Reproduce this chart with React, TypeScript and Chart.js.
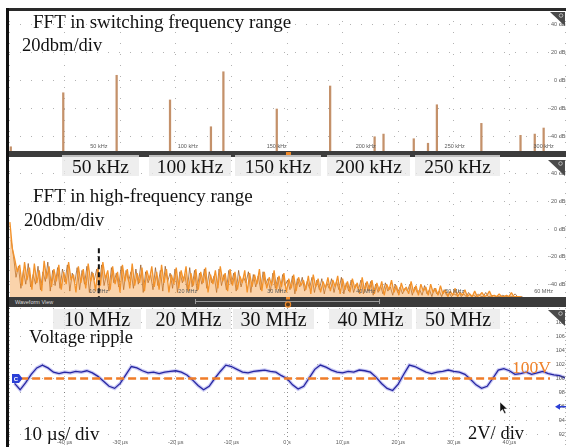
import React, { useEffect, useRef } from "react";
import { Chart, registerables } from "chart.js";

Chart.register(...registerables);

// ---- Switching-frequency spectrum: discrete lines (kHz, dBm) ----
const SW_FREQ_KHZ = [0.5, 30, 60, 90, 113, 120, 150, 180, 205, 210, 227, 235, 240, 265, 287, 295, 300];
const SW_LEVEL_DBM = [-47, -8.7, 3.7, -13.8, -32.8, 6.2, -20.2, -3.9, -39.9, -38, -41.3, -44.5, -17.2, -30.4, -38.9, -38, -33.7];
const SW_TICKS_KHZ = [50, 100, 150, 200, 250, 300];
const DBM_TICKS = [40, 20, 0, -20, -40];

// ---- High-frequency spectrum: two traces sampled every HF_BIN_MHZ (dBm) ----
const HF_BIN_MHZ = 0.275;
// max-hold trace (orange)
const HF_PEAK_DBM = [
  5, -14, -22, -31, -26, -41, -24, -37, -28, -44,
  -25, -39, -30, -45, -23, -36, -27, -42, -29, -38,
  -26, -44, -31, -40, -24, -37, -33, -46, -27, -39,
  -29, -43, -25, -38, -32, -45, -28, -41, -24, -36,
  -30, -44, -27, -40, -31, -46, -26, -38, -29, -43,
  -25, -41, -32, -39, -28, -45, -30, -37, -27, -42,
  -31, -44, -26, -39, -29, -46, -33, -40, -28, -43,
  -30, -38, -27, -45, -32, -41, -29, -44, -31, -39,
  -28, -46, -33, -40, -30, -43, -27, -38, -32, -45,
  -29, -41, -31, -44, -34, -39, -30, -46, -32, -42,
  -33, -40, -29, -45, -31, -43, -35, -41, -30, -44,
  -34, -42, -32, -46, -36, -43, -33, -45, -35, -41,
  -37, -44, -34, -47, -33, -42, -36, -46, -38, -43,
  -35, -45, -37, -42, -34, -47, -36, -44, -38, -46,
  -36, -43, -39, -47, -35, -45, -38, -44, -37, -47,
  -39, -45, -38, -48, -40, -44, -37, -46, -41, -48,
  -39, -45, -42, -47, -38, -46, -41, -48, -40, -45,
  -42, -48, -40, -46, -43, -48, -41, -47, -44, -49,
  -45, -48, -43, -49, -46, -48, -44, -49, -47, -49,
  -45, -49, -48, -46, -49, -48, -45, -49, -48, -49,
  -47, -49, -49, -48, -49, -46, -49, -49, -49, -49,
];
// live trace (brown), bins centred half a bin later
const HF_LIVE_DBM = [
  -8, -20, -35, -27, -43, -30, -40, -25, -42, -33,
  -40, -27, -44, -31, -38, -24, -45, -30, -41, -28,
  -43, -29, -38, -26, -45, -32, -39, -28, -44, -30,
  -40, -27, -46, -31, -37, -29, -43, -26, -41, -33,
  -45, -28, -39, -32, -42, -27, -44, -30, -38, -31,
  -43, -29, -40, -26, -46, -31, -39, -33, -44, -28,
  -41, -30, -45, -27, -38, -32, -43, -29, -46, -31,
  -39, -33, -44, -28, -42, -30, -45, -32, -40, -29,
  -43, -31, -39, -34, -46, -29, -41, -33, -44, -30,
  -40, -32, -45, -30, -42, -35, -39, -31, -46, -33,
  -42, -34, -44, -31, -40, -36, -45, -32, -43, -35,
  -46, -33, -41, -37, -44, -34, -47, -36, -42, -35,
  -45, -38, -43, -35, -46, -37, -44, -36, -47, -39,
  -43, -36, -46, -38, -44, -35, -47, -39, -45, -37,
  -46, -40, -44, -37, -47, -39, -45, -38, -48, -40,
  -46, -41, -47, -39, -45, -42, -48, -40, -46, -42,
  -47, -43, -45, -40, -48, -42, -46, -44, -48, -41,
  -47, -44, -49, -43, -47, -45, -49, -44, -48, -46,
  -49, -47, -48, -45, -49, -47, -49, -46, -49, -48,
  -49, -47, -49, -49, -46, -49, -49, -48, -49, -49,
  -49, -48, -49, -49, -49, -49, -47, -49, -49, -49,
];
const HF_TICKS_MHZ = [10, 20, 30, 40, 50, 60];
const HF_MARKER_MHZ = 10;
const HF_MARKER_TOP_DBM = -14;

// ---- Output voltage ripple, one sample per microsecond from RIPPLE_T0_US ----
const RIPPLE_T0_US = -49;
const RIPPLE_DT_US = 1;
const RIPPLE_V = [
  99.3, 98.4, 99.4, 100.6, 101.5, 101.9, 101.5, 100.9, 100.7, 100.9,
  100.8, 101.0, 100.9, 101.1, 100.8, 100.3, 99.6, 98.9, 98.6, 99.3,
  100.5, 101.7, 101.5, 101.1, 100.8, 100.9, 100.7, 100.9, 101.0, 101.1,
  100.9, 100.5, 99.8, 99.0, 98.4, 98.9, 100.0, 101.0, 101.9, 101.7,
  101.3, 100.9, 100.8, 101.0, 101.1, 101.2, 101.0, 100.9, 100.4, 100.0,
  99.1, 98.5, 98.9, 100.1, 101.3, 101.9, 101.6, 101.2, 100.9, 100.8,
  101.0, 100.9, 101.2, 101.1, 100.9, 100.2, 99.3, 98.6, 98.3, 99.2,
  100.6, 101.9, 101.7, 101.3, 100.9, 100.7, 100.9, 101.0, 101.2, 101.0,
  100.9, 100.6, 99.9, 99.1, 98.6, 98.9, 100.0, 101.2, 101.4, 101.1,
  100.6, 100.7, 100.9, 100.6, 100.8, 101.0, 100.7, 100.5, 100.4, 100.1,
];
const RIPPLE_REF_V = 100;
const RIPPLE_REF_SPAN_US = [-48, 47.3];
const TRIGGER_V = 96;
const VOLT_TICKS = [108, 106, 104, 102, 100, 98, 96, 94, 92];
const TIME_TICKS_US = [-40, -30, -20, -10, 0, 10, 20, 30, 40];

const KHZ_LABELS = ["50 kHz", "100 kHz", "150 kHz", "200 kHz", "250 kHz"];
const MHZ_LABELS = ["10 MHz", "20 MHz", "30 MHz", "40 MHz", "50 MHz"];

const SERIF = '"Liberation Serif", "Times New Roman", serif';
const SANS = '"Liberation Sans", "DejaVu Sans", sans-serif';

const dottedGrid = { color: "rgba(0,0,0,0.3)", drawTicks: false, lineWidth: 1, offset: false };

const xAxis = (min: number, max: number) => ({
  type: "linear",
  min,
  max,
  offset: false,
  ticks: { display: false, count: 11 },
  grid: dottedGrid,
  border: { display: false, dash: [1, 10] },
});

const yAxis = (min: number, max: number, fixedTicks?: number[]) => ({
  type: "linear",
  min,
  max,
  ticks: { display: false, count: 11 },
  grid: dottedGrid,
  border: { display: false, dash: [1, 10] },
  afterBuildTicks: fixedTicks
    ? (s: any) => {
        s.ticks = fixedTicks.map((value) => ({ value }));
      }
    : undefined,
});

// Small scope-style tick labels drawn inside the plot area
const tickLabels = (o: {
  y: number[];
  yText: (v: number) => string;
  x: number[];
  xText: (v: number) => string;
  xInset: number;
}) => ({
  id: "tickLabels",
  afterDraw(chart: any) {
    const { ctx, chartArea, scales } = chart;
    ctx.save();
    ctx.fillStyle = "#5a5a5a";
    ctx.font = `5.5px ${SANS}`;
    ctx.textAlign = "right";
    ctx.textBaseline = "middle";
    o.y.forEach((v) => ctx.fillText(o.yText(v), 570, scales.y.getPixelForValue(v)));
    ctx.textAlign = "center";
    ctx.textBaseline = "alphabetic";
    o.x.forEach((v) => ctx.fillText(o.xText(v), scales.x.getPixelForValue(v), chartArea.bottom - o.xInset));
    ctx.restore();
  },
});

// Channel offset tag on the left and trigger-level arrow on the right
const channelMarkers = {
  id: "channelMarkers",
  afterDraw(chart: any) {
    const { ctx, scales } = chart;
    const y = scales.y.getPixelForValue(RIPPLE_REF_V);
    ctx.save();
    ctx.fillStyle = "#2b3fd6";
    ctx.beginPath();
    ctx.moveTo(12, y - 4.5);
    ctx.lineTo(19, y - 4.5);
    ctx.lineTo(22.5, y);
    ctx.lineTo(19, y + 4.5);
    ctx.lineTo(12, y + 4.5);
    ctx.closePath();
    ctx.fill();
    ctx.fillStyle = "#fff";
    ctx.font = `bold 6px ${SANS}`;
    ctx.textAlign = "center";
    ctx.textBaseline = "middle";
    ctx.fillText("C", 16, y + 0.5);
    const ty = scales.y.getPixelForValue(TRIGGER_V);
    ctx.fillStyle = "#2b3fd6";
    ctx.beginPath();
    ctx.moveTo(555, ty);
    ctx.lineTo(560, ty - 3);
    ctx.lineTo(560, ty + 3);
    ctx.closePath();
    ctx.fill();
    ctx.strokeStyle = "#2b3fd6";
    ctx.lineWidth = 1.5;
    ctx.beginPath();
    ctx.moveTo(559, ty);
    ctx.lineTo(566, ty);
    ctx.stroke();
    ctx.restore();
  },
};

const baseOptions = {
  animation: false,
  responsive: false,
  maintainAspectRatio: false,
  events: [],
  layout: { padding: { left: 9, right: 1, top: 0, bottom: 0 } },
  plugins: { legend: { display: false }, tooltip: { enabled: false } },
};

function buildSwitching(): any {
  return {
    type: "bar",
    data: {
      datasets: [
        {
          data: SW_FREQ_KHZ.map((x, i) => ({ x, y: SW_LEVEL_DBM[i] })),
          base: -50,
          barThickness: 1.6,
          backgroundColor: "#c4916a",
        },
      ],
    },
    options: {
      ...baseOptions,
      scales: { x: xAxis(-0.5, 312), y: yAxis(-50, 50, DBM_TICKS) },
    },
    plugins: [
      tickLabels({
        y: DBM_TICKS,
        yText: (v) => `${v} dBm`,
        x: SW_TICKS_KHZ,
        xText: (v) => `${v} kHz`,
        xInset: 3,
      }),
    ],
  };
}

function buildHighFreq(): any {
  return {
    type: "line",
    data: {
      datasets: [
        {
          data: [
            { x: HF_MARKER_MHZ, y: HF_MARKER_TOP_DBM },
            { x: HF_MARKER_MHZ, y: -50 },
          ],
          borderColor: "#111",
          borderWidth: 2,
          borderDash: [5, 3],
          pointRadius: 0,
        },
        {
          data: HF_PEAK_DBM.map((y, i) => ({ x: i * HF_BIN_MHZ, y })),
          borderColor: "#f3922a",
          backgroundColor: "rgba(242,145,45,0.4)",
          fill: "start",
          borderWidth: 1.3,
          borderJoinStyle: "bevel",
          pointRadius: 0,
        },
        {
          data: HF_LIVE_DBM.map((y, i) => ({ x: (i + 0.5) * HF_BIN_MHZ, y })),
          borderColor: "rgba(150,88,36,0.85)",
          borderWidth: 0.9,
          borderJoinStyle: "bevel",
          pointRadius: 0,
        },
      ],
    },
    options: {
      ...baseOptions,
      scales: { x: xAxis(-0.1, 62.4), y: yAxis(-50, 50, DBM_TICKS) },
    },
    plugins: [
      tickLabels({
        y: DBM_TICKS,
        yText: (v) => `${v} dBm`,
        x: HF_TICKS_MHZ,
        xText: (v) => `${v} MHz`,
        xInset: 5,
      }),
    ],
  };
}

function buildRipple(): any {
  const pts = RIPPLE_V.map((y, i) => ({ x: RIPPLE_T0_US + i * RIPPLE_DT_US, y }));
  return {
    type: "line",
    data: {
      datasets: [
        {
          data: RIPPLE_REF_SPAN_US.map((x) => ({ x, y: RIPPLE_REF_V })),
          borderColor: "#f07c28",
          borderWidth: 2.5,
          borderDash: [8, 4],
          pointRadius: 0,
        },
        {
          data: pts,
          borderColor: "#2626a2",
          borderWidth: 1.3,
          pointRadius: 0,
        },
        {
          data: pts,
          borderColor: "rgba(90,90,220,0.32)",
          borderWidth: 3.6,
          pointRadius: 0,
        },
      ],
    },
    options: {
      ...baseOptions,
      scales: {
        x: {
          ...xAxis(-50, 50),
          grid: {
            ...dottedGrid,
            color: (c: any) => (c.tick && c.tick.value === 0 ? "rgba(0,0,0,0.45)" : "rgba(0,0,0,0.3)"),
          },
          border: { display: false, dash: [1, 3] },
        },
        y: yAxis(90, 110),
      },
    },
    plugins: [
      tickLabels({
        y: VOLT_TICKS,
        yText: (v) => `${v} V`,
        x: TIME_TICKS_US,
        xText: (v) => (v === 0 ? "0 s" : `${v} µs`),
        xInset: 5,
      }),
      channelMarkers,
    ],
  };
}

function ScopePanel({ top, height, build }: { top: number; height: number; build: () => any }) {
  const ref = useRef<HTMLCanvasElement>(null);
  useEffect(() => {
    const chart = new Chart(ref.current as HTMLCanvasElement, build());
    return () => chart.destroy();
  }, []);
  return (
    <canvas
      ref={ref}
      width={566}
      height={height}
      style={{ position: "absolute", left: 0, top, width: 566, height }}
    />
  );
}

function Txt({
  x,
  baseline,
  size,
  children,
  color = "#111",
  center = false,
}: {
  x: number;
  baseline: number;
  size: number;
  children: React.ReactNode;
  color?: string;
  center?: boolean;
}) {
  return (
    <div
      style={{
        position: "absolute",
        left: x,
        top: baseline - 0.8375 * size,
        fontFamily: SERIF,
        fontSize: size,
        lineHeight: `${size}px`,
        color,
        whiteSpace: "nowrap",
        transform: center ? "translateX(-50%)" : undefined,
      }}
    >
      {children}
    </div>
  );
}

const KHZ_BOXES = [
  [62, 139],
  [149, 231],
  [235, 321],
  [327, 410],
  [415, 500],
];
const MHZ_BOXES = [
  [53, 141],
  [146, 231],
  [233, 314],
  [329, 412],
  [416, 500],
];

function Box({ x0, x1, top, height }: { x0: number; x1: number; top: number; height: number }) {
  return (
    <div
      style={{ position: "absolute", left: x0, top, width: x1 - x0, height, background: "rgba(232,232,232,0.75)" }}
    />
  );
}

export default function App() {
  return (
    <div
      style={{
        position: "fixed",
        left: 0,
        top: 0,
        width: 566,
        height: 447,
        overflow: "hidden",
        background: "#fff",
      }}
    >
      <ScopePanel top={10} height={141} build={buildSwitching} />
      <ScopePanel top={160} height={138} build={buildHighFreq} />
      <ScopePanel top={308} height={141} build={buildRipple} />

      {/* frame lines and bars */}
      <div style={{ position: "absolute", left: 6, top: 8, width: 560, height: 2.5, background: "#2a2a2a" }} />
      <div style={{ position: "absolute", left: 6, top: 8, width: 3, height: 439, background: "#111" }} />
      <div style={{ position: "absolute", left: 9, top: 151, width: 557, height: 6, background: "#3c3c3c" }} />
      <div style={{ position: "absolute", left: 286, top: 152, width: 5, height: 3, background: "#f08a2a" }} />
      <div style={{ position: "absolute", left: 9, top: 297, width: 557, height: 10, background: "#3b3b3b" }}>
        <div
          style={{
            position: "absolute",
            left: 6,
            top: 2,
            fontFamily: SANS,
            fontSize: 5.5,
            lineHeight: "6px",
            color: "#d8d8d8",
          }}
        >
          Waveform View
        </div>
      </div>

      <svg width={566} height={447} style={{ position: "absolute", left: 0, top: 0 }}>
        {/* waveform-view bracket */}
        <line x1={195} y1={301.5} x2={380} y2={301.5} stroke="#9a9a9a" strokeWidth={1} />
        <line x1={195.5} y1={299} x2={195.5} y2={304} stroke="#9a9a9a" strokeWidth={1} />
        <line x1={379.5} y1={299} x2={379.5} y2={304} stroke="#9a9a9a" strokeWidth={1} />
        <rect x={286} y={297} width={4} height={2.5} fill="#f08a2a" />
        <circle cx={288} cy={304.5} r={2.6} fill="#5a3a1a" stroke="#f08a2a" strokeWidth={1.2} />
        {/* zoom corner tabs */}
        <polygon points="550,12 565,12 565,26" fill="#4a4a4a" />
        <polygon points="548,160 565,160 565,176" fill="#4a4a4a" />
        <polygon points="548,310 565,310 565,326" fill="#4a4a4a" />
        <circle cx={561} cy={15.5} r={1.8} fill="none" stroke="#ddd" strokeWidth={0.7} />
        <circle cx={560.5} cy={163.5} r={1.8} fill="none" stroke="#ddd" strokeWidth={0.7} />
        <circle cx={560.5} cy={313.5} r={1.8} fill="none" stroke="#ddd" strokeWidth={0.7} />
        {/* mouse pointer */}
        <path
          d="M500 402 L500 412 L502.4 409.6 L504.4 413.6 L506 412.9 L504 409 L507.4 409 Z"
          fill="#111"
          stroke="#fff"
          strokeWidth={0.5}
        />
      </svg>

      {/* frequency captions */}
      {KHZ_BOXES.map(([a, b], i) => (
        <Box key={`kb${i}`} x0={a} x1={b} top={155} height={21} />
      ))}
      {KHZ_LABELS.map((t, i) => (
        <Txt key={`kl${i}`} x={(KHZ_BOXES[i][0] + KHZ_BOXES[i][1]) / 2} baseline={173.5} size={19.5} center>
          {t}
        </Txt>
      ))}
      {MHZ_BOXES.map(([a, b], i) => (
        <Box key={`mb${i}`} x0={a} x1={b} top={308.5} height={20} />
      ))}
      {MHZ_LABELS.map((t, i) => (
        <Txt key={`ml${i}`} x={(MHZ_BOXES[i][0] + MHZ_BOXES[i][1]) / 2} baseline={325.5} size={20} center>
          {t}
        </Txt>
      ))}

      <Txt x={33} baseline={28.3} size={19}>FFT in switching frequency range</Txt>
      <Txt x={22} baseline={51.7} size={18.5}>20dbm/div</Txt>
      <Txt x={33} baseline={202.3} size={19}>FFT in high-frequency range</Txt>
      <Txt x={24} baseline={226.5} size={18.5}>20dbm/div</Txt>
      <Txt x={29} baseline={343} size={18.5}>Voltage ripple</Txt>
      <Txt x={512} baseline={374} size={17.5} color="#f0822a">100V</Txt>
      <Txt x={23} baseline={440} size={19}>10 µs/ div</Txt>
      <Txt x={468} baseline={439.3} size={18.5}>2V/ div</Txt>
    </div>
  );
}
